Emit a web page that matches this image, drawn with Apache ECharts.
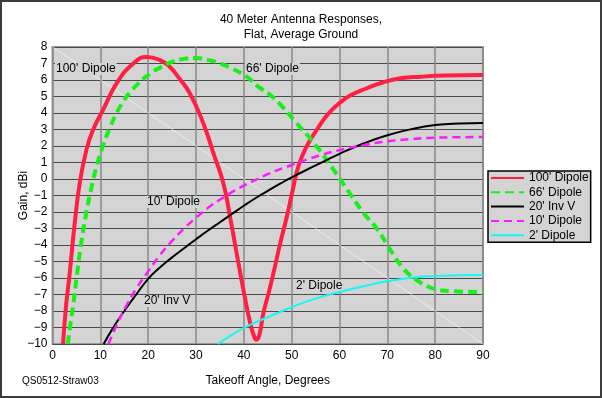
<!DOCTYPE html>
<html lang="en">
<head>
    <meta charset="UTF-8">
    <title>40 Meter Antenna Responses</title>
    <script src="https://cdn.jsdelivr.net/npm/echarts@6/dist/echarts.min.js"></script>
    <style>
        html, body { margin: 0; padding: 0; background: #fff; }
    </style>
</head>
<body>
    <div id="chart" style="width: 602px; height: 398px;"></div>

    <script>
        // 100' Dipole
        var dip100Ang = [2.2, 2.8, 3.6, 4.65, 5.7, 7.1, 8.5, 10.6, 13.4, 16.9, 19.7, 22.5, 24.5, 26.5, 28.7, 31.5, 33.6, 35.7, 37.1, 38.5, 39.9, 41.3, 42.1, 42.6, 43.2, 44.1, 45.1, 46.2, 47.6, 49, 50.2, 51.4, 53, 55.3, 57.5, 60, 62.5, 65.7, 69, 72.7, 77, 82, 90];
        var dip100Gain = [-10, -7.8, -5.7, -2.67, -0.24, 1.78, 3.0, 4.2, 5.8, 7.0, 7.4, 7.2, 6.8, 6.1, 5.2, 3.4, 1.6, -0.24, -2.27, -4.5, -6.7, -8.7, -9.5, -9.74, -9.5, -8.1, -7.0, -5.7, -3.9, -2.27, -0.7, 0.76, 1.9, 3.0, 3.9, 4.6, 5.1, 5.5, 5.85, 6.1, 6.2, 6.27, 6.3];

        // 66' Dipole
        var dip66Ang = [3.2, 3.7, 4.3, 5.2, 6.1, 7.1, 8.2, 9.3, 10.6, 12, 13.4, 14.8, 16.2, 18, 20.4, 22.5, 25, 27.5, 30, 32.5, 35, 37.5, 40.6, 43, 45.5, 48, 51, 54.6, 58.8, 62.6, 65, 67.8, 70, 71.3, 73, 74.8, 76.5, 78.3, 80.5, 83.2, 90];
        var dip66Gain = [-10, -8.9, -7.7, -5.6, -3.7, -2.0, -0.45, 0.85, 2.05, 3.1, 4.0, 4.7, 5.25, 5.8, 6.4, 6.75, 7.1, 7.28, 7.33, 7.22, 7.0, 6.7, 6.2, 5.6, 5.1, 4.4, 3.4, 2.2, 0.55, -1.07, -2.05, -3.0, -4.0, -4.6, -5.3, -5.85, -6.2, -6.5, -6.7, -6.8, -6.85];

        // 20' Inv V
        var invVAng = [10.7, 12.5, 15, 17.5, 20, 22.5, 25, 27.5, 30, 32.5, 35, 37.5, 40, 42.5, 45, 47.5, 50, 55, 60, 65, 70, 75, 80, 85, 90];
        var invVGain = [-10, -9.1, -8.0, -7.0, -6.05, -5.35, -4.75, -4.2, -3.65, -3.12, -2.62, -2.12, -1.62, -1.15, -0.72, -0.3, 0.1, 0.82, 1.52, 2.15, 2.65, 3.02, 3.27, 3.37, 3.4];

        // 10' Dipole
        var dip10Ang = [11.7, 13.5, 15.4, 17.5, 20, 22.5, 25, 27.5, 30, 32.5, 35, 37.5, 40, 42.5, 45, 50, 55, 60, 65, 70, 75, 80, 85, 90];
        var dip10Gain = [-10, -8.8, -7.7, -6.65, -5.6, -4.6, -3.75, -3.0, -2.35, -1.75, -1.25, -0.8, -0.4, -0.05, 0.3, 0.85, 1.35, 1.75, 2.05, 2.28, 2.42, 2.5, 2.53, 2.55];

        // 2' Dipole
        var dip2Ang = [34.6, 38, 42, 46, 51, 55, 60, 65, 70, 75, 80, 85, 90];
        var dip2Gain = [-10, -9.35, -8.75, -8.25, -7.65, -7.25, -6.85, -6.5, -6.2, -5.98, -5.88, -5.84, -5.82];

        var seriesNames = ["100' Dipole", "66' Dipole", "20' Inv V", "10' Dipole", "2' Dipole"];

        function pairs(xs, ys) {
            return xs.map(function (x, i) { return [x, ys[i]]; });
        }

        var font = '"Liberation Sans", Arial, sans-serif';
        var plotBg = '#d4d4d4';

        function lineSeries(name, data, color, width, type) {
            return {
                name: name,
                type: 'line',
                data: data,
                symbol: 'none',
                smooth: 0.5,
                lineStyle: { color: color, width: width, type: type },
                itemStyle: { color: color }
            };
        }

        // labels inside the plot
        function plotLabel(text, x, y) {
            return {
                type: 'text',
                z: 1,
                x: x,
                y: y,
                style: {
                    text: text,
                    font: '12px ' + font,
                    fill: '#000',
                    verticalAlign: 'middle',
                    backgroundColor: plotBg,
                    padding: [0, 1]
                }
            };
        }

        var chart = echarts.init(document.getElementById('chart'));
        var option = {
            animation: false,
            backgroundColor: '#fff',
            title: {
                text: "40 Meter Antenna Responses,\nFlat, Average Ground",
                left: 296,
                top: 7,
                textAlign: 'center',
                textStyle: { fontFamily: font, fontSize: 12, fontWeight: 'normal', color: '#000', lineHeight: 15 }
            },
            grid: {
                left: 52.5, right: 119, top: 47, bottom: 54,
                show: true,
                backgroundColor: plotBg,
                borderColor: '#9a9a9a',
                borderWidth: 2
            },
            legend: {
                orient: 'vertical',
                left: 488,
                top: 171,
                data: seriesNames,
                backgroundColor: plotBg,
                borderColor: '#000',
                borderWidth: 1.5,
                borderRadius: 0,
                padding: [1, 2, 1, 2],
                itemWidth: 33,
                itemHeight: 12,
                itemGap: 2.3,
                itemTextGap: 4,
                itemStyle: { opacity: 0 },
                textStyle: { fontFamily: font, fontSize: 12, color: '#000', lineHeight: 12 }
            },
            xAxis: {
                type: 'value',
                min: 0, max: 90, interval: 10,
                name: 'Takeoff Angle, Degrees',
                nameLocation: 'middle',
                nameGap: 31,
                nameMoveOverlap: false,
                nameTextStyle: { fontFamily: font, fontSize: 12, color: '#000' },
                axisLine: { show: false },
                axisTick: { show: false },
                axisLabel: { fontFamily: font, fontSize: 12, color: '#000', margin: 6 },
                splitLine: { show: true, lineStyle: { color: '#8a8a8a', width: 1.5 } }
            },
            yAxis: {
                type: 'value',
                min: -10, max: 8, interval: 1,
                name: 'Gain, dBi',
                nameLocation: 'middle',
                nameRotate: 90,
                nameGap: 23,
                nameMoveOverlap: false,
                nameTextStyle: { fontFamily: font, fontSize: 12, color: '#000' },
                axisLine: { show: false },
                axisTick: { show: false },
                axisLabel: {
                    fontFamily: font, fontSize: 12, color: '#000', margin: 5,
                    formatter: function (v) { return String(v).replace('-', '\u2212'); }
                },
                splitLine: { show: true, lineStyle: { color: '#4a4a4a', width: 1 } }
            },
            graphic: [
                // outer frame
                { type: 'rect', z: 10, shape: { x: 1, y: 1, width: 600, height: 396 }, style: { fill: 'none', stroke: '#3c3c3c', lineWidth: 2 } },
                // faint diagonal in the plot background
                { type: 'line', z: 1, shape: { x1: 53, y1: 47, x2: 483, y2: 344 }, style: { stroke: 'rgba(255,255,255,0.55)', lineWidth: 1 } },
                { type: 'text', z: 1, left: 22, top: 376, style: { text: 'QS0512-Straw03', font: '10px ' + font, fill: '#000' } },
                plotLabel("100' Dipole", 55, 69),
                plotLabel("66' Dipole", 245, 69),
                plotLabel("10' Dipole", 146, 202),
                plotLabel("20' Inv V", 143, 301),
                plotLabel("2' Dipole", 295, 286)
            ],
            series: [
                lineSeries(seriesNames[0], pairs(dip100Ang, dip100Gain), '#ff1f43', 4, 'solid'),
                lineSeries(seriesNames[1], pairs(dip66Ang, dip66Gain), '#19f019', 4, [9, 5]),
                lineSeries(seriesNames[2], pairs(invVAng, invVGain), '#000000', 2, 'solid'),
                lineSeries(seriesNames[3], pairs(dip10Ang, dip10Gain), '#ff19ff', 2.5, [8, 5]),
                lineSeries(seriesNames[4], pairs(dip2Ang, dip2Gain), '#19f5f5', 2, 'solid')
            ]
        };
        chart.setOption(option);
    </script>
</body>
</html>
